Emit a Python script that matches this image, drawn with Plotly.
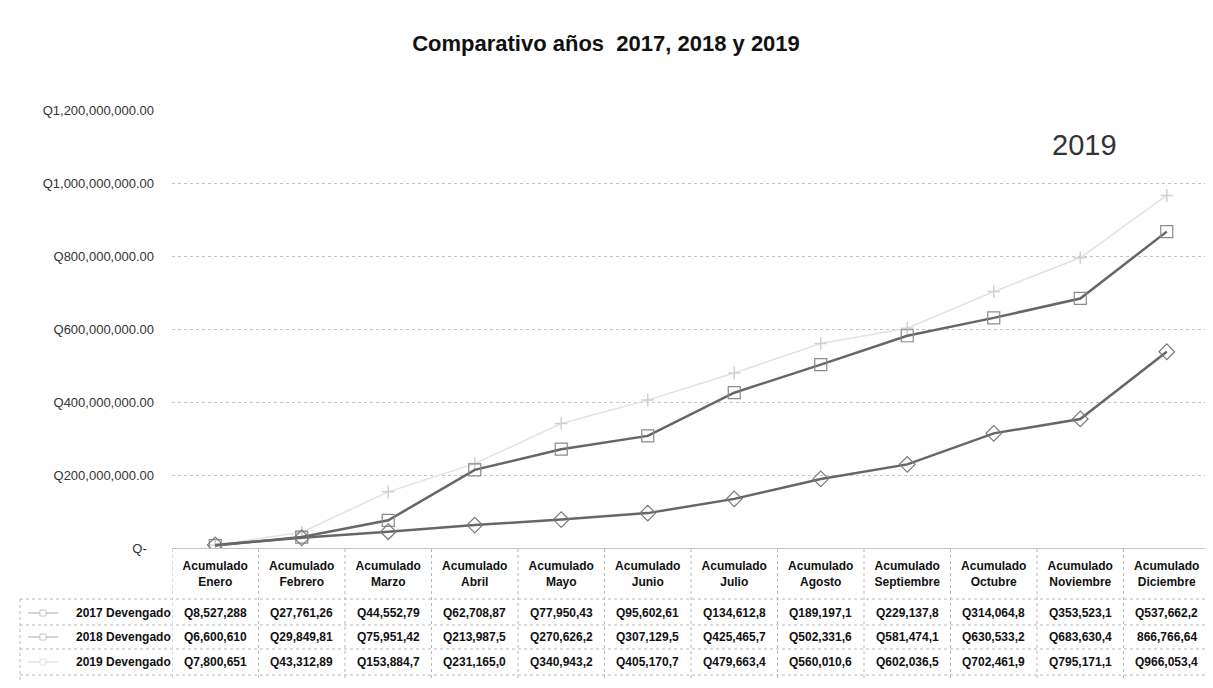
import plotly.graph_objects as go

months = ["Enero", "Febrero", "Marzo", "Abril", "Mayo", "Junio", "Julio",
          "Agosto", "Septiembre", "Octubre", "Noviembre", "Diciembre"]
header = ["<b>Acumulado<br>" + m + "</b>" for m in months]

series_names = ["2017 Devengado", "2018 Devengado", "2019 Devengado"]

v2017 = [8527288, 27761260, 44552790, 62708870, 77950430, 95602610, 134612800,
         189197100, 229137800, 314064800, 353523100, 537662200]
v2018 = [6600610, 29849810, 75951420, 213987500, 270626200, 307129500, 425465700,
         502331600, 581474100, 630533200, 683630400, 866766640]
v2019 = [7800651, 43312890, 153884700, 231165000, 340943200, 405170700, 479663400,
         560010600, 602036500, 702461900, 795171100, 966053400]

t2017 = ["Q8,527,288", "Q27,761,26", "Q44,552,79", "Q62,708,87", "Q77,950,43", "Q95,602,61",
         "Q134,612,8", "Q189,197,1", "Q229,137,8", "Q314,064,8", "Q353,523,1", "Q537,662,2"]
t2018 = ["Q6,600,610", "Q29,849,81", "Q75,951,42", "Q213,987,5", "Q270,626,2", "Q307,129,5",
         "Q425,465,7", "Q502,331,6", "Q581,474,1", "Q630,533,2", "Q683,630,4", "866,766,64"]
t2019 = ["Q7,800,651", "Q43,312,89", "Q153,884,7", "Q231,165,0", "Q340,943,2", "Q405,170,7",
         "Q479,663,4", "Q560,010,6", "Q602,036,5", "Q702,461,9", "Q795,171,1", "Q966,053,4"]

ytick_vals = [0, 200e6, 400e6, 600e6, 800e6, 1000e6, 1200e6]
ytick_text = ["Q-  ", "Q200,000,000.00", "Q400,000,000.00", "Q600,000,000.00",
              "Q800,000,000.00", "Q1,000,000,000.00", "Q1,200,000,000.00"]

FONT = "Liberation Sans, Arial, sans-serif"
OFF = 8  # default page body margin
W, H = 1213 - OFF, 688 - OFF
L = 172 - OFF
R = W - (1210 - OFF)
T = 110 - OFF
B = H - (548 - OFF)
plot_h = H - T - B
plot_w = W - L - R

def py(pix):  # page pixel y -> paper y
    return (H - B - (pix - OFF)) / plot_h

def px(pix):  # page pixel x -> paper x
    return ((pix - OFF) - L) / plot_w

x = list(range(len(months)))

fig = go.Figure()
fig.add_trace(go.Scatter(x=x, y=v2019, mode="lines+markers", name=series_names[2],
                         line=dict(color="#e2e2e2", width=1.5),
                         marker=dict(symbol="cross-thin-open", size=9, color="#d0d0d0",
                                     line=dict(width=1.5, color="#d0d0d0"))))
fig.add_trace(go.Scatter(x=x, y=v2018, mode="lines+markers", name=series_names[1],
                         line=dict(color="#666666", width=2.5),
                         marker=dict(symbol="square-open", size=12, color="#8a8a8a",
                                     line=dict(width=1.2, color="#8a8a8a"))))
fig.add_trace(go.Scatter(x=x, y=v2017, mode="lines+markers", name=series_names[0],
                         line=dict(color="#666666", width=2.5),
                         marker=dict(symbol="diamond-open", size=12, color="#7a7a7a",
                                     line=dict(width=1.2, color="#7a7a7a"))))

annotations = []
row_pix = [613, 637, 662]
for r, (name, texts) in enumerate(zip(series_names, [t2017, t2018, t2019])):
    annotations.append(dict(x=px(173), y=py(row_pix[r]), xref="paper", yref="paper",
                            text="<b>" + name + "</b>", showarrow=False, xanchor="right",
                            yanchor="middle", font=dict(family=FONT, size=12, color="#111")))
    for i, t in enumerate(texts):
        annotations.append(dict(x=i, y=py(row_pix[r]), xref="x", yref="paper",
                                text="<b>" + t + "</b>", showarrow=False, xanchor="center",
                                yanchor="middle", font=dict(family=FONT, size=12, color="#111")))

annotations.append(dict(x=px(1084), y=py(145), xref="paper", yref="paper", text="2019",
                        showarrow=False, xanchor="center", yanchor="middle",
                        font=dict(family=FONT, size=29, color="#333")))

shapes = []
grid_col = "#b8b8b8"
for i in range(len(months) + 1):
    shapes.append(dict(type="line", xref="x", yref="paper", x0=i - 0.5, x1=i - 0.5,
                       y0=py(549), y1=py(680), line=dict(color=grid_col, width=1, dash="dot")))
for yy in [599, 625, 649, 675]:
    shapes.append(dict(type="line", xref="paper", yref="paper", x0=px(20), x1=1.0,
                       y0=py(yy), y1=py(yy), line=dict(color=grid_col, width=1, dash="dot")))
shapes.append(dict(type="line", xref="paper", yref="paper", x0=px(20), x1=px(20),
                   y0=py(599), y1=py(680), line=dict(color=grid_col, width=1, dash="dot")))
key_cols = ["#c4c4c4", "#c4c4c4", "#e4e4e4"]
for r in range(3):
    shapes.append(dict(type="line", xref="paper", yref="paper", x0=px(28), x1=px(58),
                       y0=py(row_pix[r]), y1=py(row_pix[r]), line=dict(color=key_cols[r], width=1.5)))
    shapes.append(dict(type="rect", xref="paper", yref="paper", x0=px(40), x1=px(46),
                       y0=py(row_pix[r] + 3), y1=py(row_pix[r] - 3),
                       line=dict(color=key_cols[r], width=1), fillcolor="white"))

fig.update_layout(
    width=W, height=H,
    margin=dict(l=L, r=R, t=T, b=B),
    paper_bgcolor="white", plot_bgcolor="white",
    showlegend=False,
    title=dict(text="<b>Comparativo años  2017, 2018 y 2019</b>", x=(606 - OFF) / W,
               xanchor="center", y=1 - (43 - OFF) / H, yanchor="middle",
               font=dict(family=FONT, size=22, color="#111")),
    font=dict(family=FONT, size=12, color="#222"),
    annotations=annotations,
    shapes=shapes,
)
fig.update_xaxes(tickmode="array", tickvals=x, ticktext=header, range=[-0.5, 11.5],
                 showgrid=False, zeroline=False, showline=False, ticks="",
                 ticklabelstandoff=9,
                 tickfont=dict(family=FONT, size=12, color="#111"))
fig.update_yaxes(range=[0, 1.2e9], tickmode="array", tickvals=ytick_vals, ticktext=ytick_text,
                 showgrid=True, gridcolor="#c4c4c4", griddash="dot", gridwidth=1,
                 zeroline=True, zerolinecolor="#c4c4c4", zerolinewidth=1,
                 showline=False, ticks="", ticklabelstandoff=17,
                 tickfont=dict(family=FONT, size=13, color="#333"))

fig.write_html("out.html")
